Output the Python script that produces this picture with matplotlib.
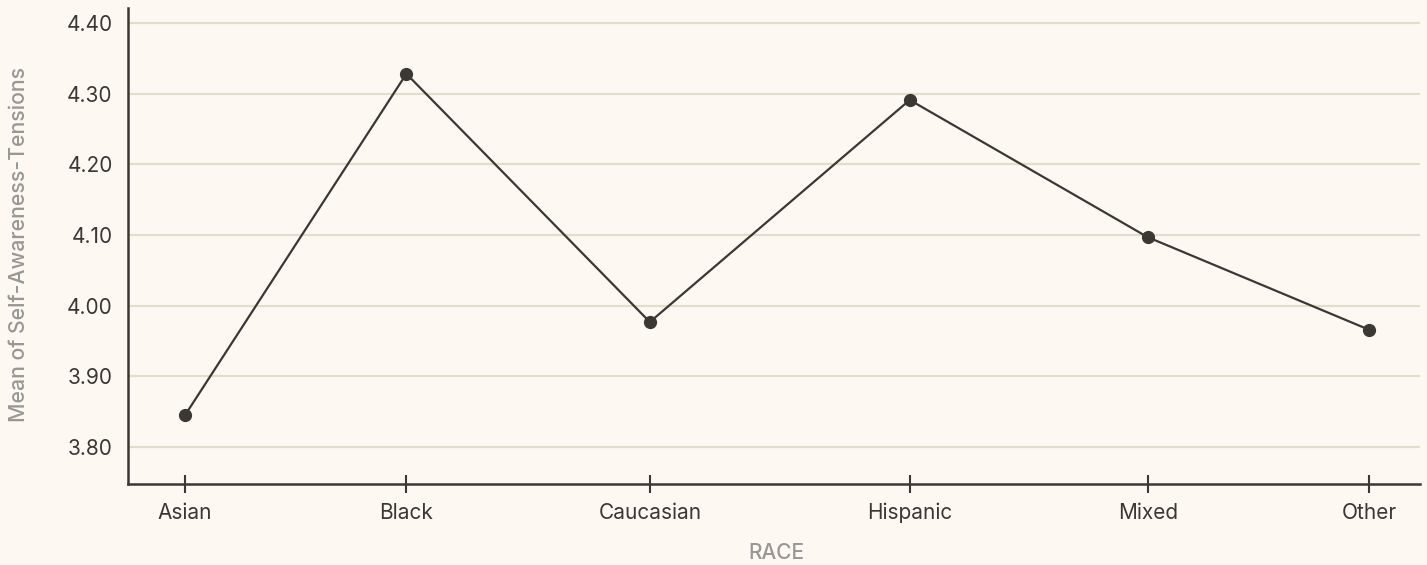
import matplotlib.pyplot as plt
import numpy as np

plt.rcParams['font.family'] = ['Inter', 'DejaVu Sans']

races = ["Asian", "Black", "Caucasian", "Hispanic", "Mixed", "Other"]
means = [3.845, 4.328, 3.977, 4.291, 4.097, 3.966]
yticks = [3.80, 3.90, 4.00, 4.10, 4.20, 4.30, 4.40]

bg = "#fdf9f2"
ink = "#3b3732"
grid_c = "#e2dece"
muted = "#999793"

# categories are spaced by label width (wider labels get more room)
lens = np.array([len(r) for r in races])
gaps = 164 + 5.4 * (lens[:-1] + lens[1:])
xpos = np.concatenate([[0], np.cumsum(gaps)])

fig = plt.figure(figsize=(14.27, 5.65), dpi=100, facecolor=bg)
ax = fig.add_axes([0.0897, 0.1434, 0.9054, 0.8424], facecolor=bg)

ax.plot(xpos, means, color=ink, lw=1.6, marker="o", ms=8.5, zorder=3)

ax.set_xlim(xpos[0] - 56, xpos[-1] + 50)
ax.set_ylim(3.748, 4.421)
ax.set_xticks(xpos)
ax.set_xticklabels(races)
ax.set_yticks(yticks)
ax.set_yticklabels([f"{v:.2f}" for v in yticks])

ax.grid(axis="y", color=grid_c, lw=1.6)
ax.set_axisbelow(True)
for s in ["top", "right"]:
    ax.spines[s].set_visible(False)
for s in ["left", "bottom"]:
    ax.spines[s].set_color(ink)
    ax.spines[s].set_linewidth(1.8)

ax.tick_params(axis="x", direction="inout", length=13, width=1.5, color=ink,
               labelsize=15, labelcolor=ink, pad=7)
ax.tick_params(axis="y", length=0, labelsize=15, labelcolor=ink, pad=11)

ax.set_xlabel("RACE", color=muted, fontsize=15, fontweight="medium", va="center")
ax.xaxis.set_label_coords((776 - 128) / 1292, -(553 - 484) / 476)
ax.set_ylabel("Mean of Self-Awareness-Tensions", color=muted, fontsize=15.3,
              fontweight="medium", va="center")
ax.yaxis.set_label_coords(-(128 - 19) / 1292, (484 - 244) / 476)

fig.savefig("out.png", dpi=100, facecolor=bg)
